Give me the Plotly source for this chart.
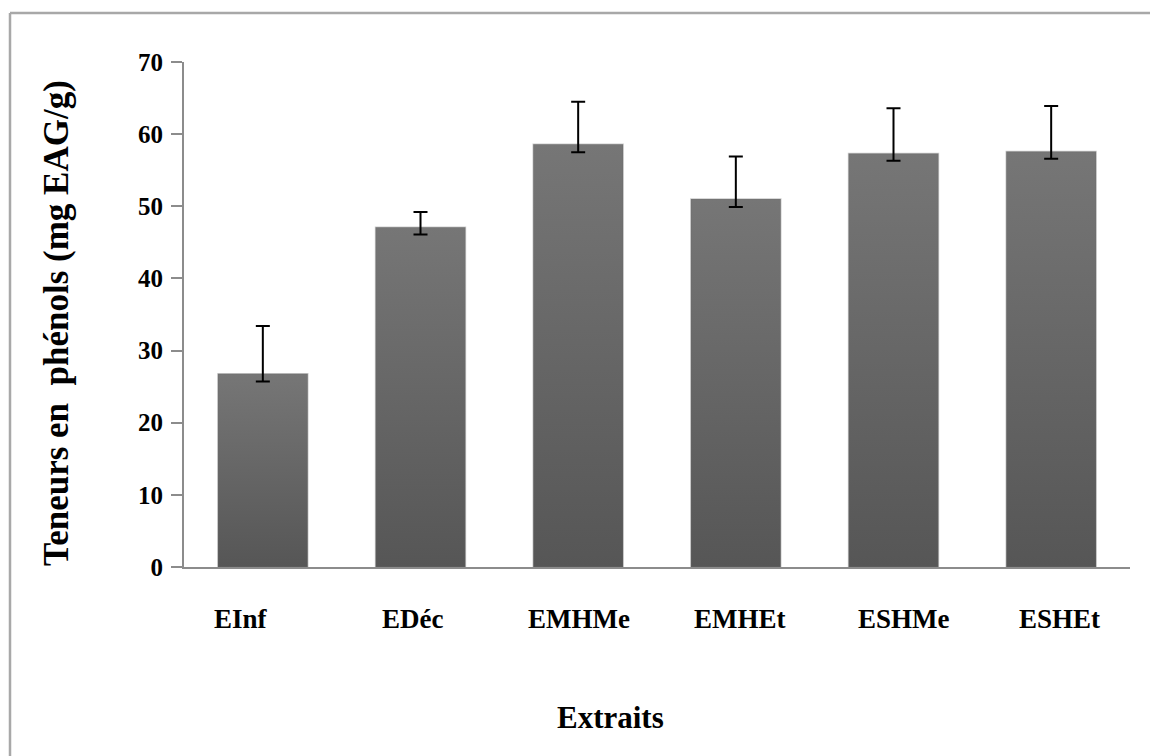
import plotly.graph_objects as go

# Total phenol content per extract (mg EAG/g) with error bar extents
categories = ["EInf", "EDéc", "EMHMe", "EMHEt", "ESHMe", "ESHEt"]
values = [26.8, 47.1, 58.6, 51.0, 57.3, 57.6]
err_up = [6.6, 2.1, 5.9, 5.9, 6.3, 6.3]
err_down = [1.1, 1.0, 1.1, 1.1, 1.0, 1.0]

y_ticks = [0, 10, 20, 30, 40, 50, 60, 70]

# Layout geometry (pixels)
W, H = 1150, 756
ML, MR, MT, MB = 184, 20, 62, 189
PW, PH = W - ML - MR, H - MT - MB

# Horizontal nudge of each category label (pixels)
label_shift = [-22, -8, 1, 4, 10, 8]

SERIF = "Liberation Serif"
AXIS_GREY = "#8c8c8c"
BAR_WIDTH = 0.57


def px_x(p):
    return (p - ML) / PW


def px_y(p):
    return (H - MB - p) / PH


fig = go.Figure()

# Bars drawn as filled rectangles so they can carry a vertical gradient
for i, v in enumerate(values):
    x0, x1 = i - BAR_WIDTH / 2, i + BAR_WIDTH / 2
    fig.add_trace(go.Scatter(
        x=[x0, x1, x1, x0, x0],
        y=[0, 0, v, v, 0],
        mode="lines",
        fill="toself",
        fillgradient=dict(type="vertical",
                          colorscale=[[0, "#565656"], [1, "#767676"]]),
        line=dict(color="rgba(110,110,110,0.35)", width=1.5),
        hoverinfo="skip",
        showlegend=False,
    ))

# Error bars
fig.add_trace(go.Scatter(
    x=list(range(len(categories))),
    y=values,
    mode="markers",
    marker=dict(size=1, opacity=0),
    error_y=dict(type="data", symmetric=False, array=err_up,
                 arrayminus=err_down, color="#000000",
                 thickness=2, width=7),
    showlegend=False,
    hovertext=categories,
))

annotations = []
for i, (cat, dx) in enumerate(zip(categories, label_shift)):
    annotations.append(dict(
        x=i, y=px_y(619), xref="x", yref="paper",
        text=cat, showarrow=False, xshift=dx,
        xanchor="center", yanchor="middle",
        font=dict(family=SERIF, size=27, color="#000000", weight="bold"),
    ))

annotations.append(dict(
    x=px_x(610), y=px_y(717), xref="paper", yref="paper",
    text="Extraits", showarrow=False,
    xanchor="center", yanchor="middle",
    font=dict(family=SERIF, size=31, color="#000000", weight="bold"),
))

annotations.append(dict(
    x=px_x(56), y=px_y(323), xref="paper", yref="paper",
    text="Teneurs en  phénols (mg EAG/g)", showarrow=False,
    textangle=-90, xanchor="center", yanchor="middle",
    font=dict(family=SERIF, size=35, color="#000000", weight="bold"),
))

# Outer frame (left and top edges)
border = dict(color="#a8a8a8", width=2.5)
shapes = [
    dict(type="line", xref="paper", yref="paper",
         x0=px_x(10), x1=px_x(10), y0=px_y(13), y1=px_y(H + 5), line=border),
    dict(type="line", xref="paper", yref="paper",
         x0=px_x(10), x1=px_x(W + 5), y0=px_y(13), y1=px_y(13), line=border),
]

fig.update_layout(
    width=W, height=H,
    margin=dict(l=ML, r=MR, t=MT, b=MB, pad=0),
    paper_bgcolor="#ffffff",
    plot_bgcolor="#ffffff",
    showlegend=False,
    annotations=annotations,
    shapes=shapes,
    xaxis=dict(
        range=[-0.5, len(categories) - 0.5],
        tickvals=list(range(len(categories))),
        ticktext=categories,
        showticklabels=False,
        ticks="",
        showgrid=False, zeroline=False,
        showline=True, linecolor=AXIS_GREY, linewidth=2,
        fixedrange=True,
    ),
    yaxis=dict(
        range=[0, 70],
        tickvals=y_ticks,
        ticks="outside", ticklen=11, tickwidth=2, tickcolor=AXIS_GREY,
        showgrid=False, zeroline=False,
        showline=True, linecolor=AXIS_GREY, linewidth=2,
        tickfont=dict(family=SERIF, size=25, color="#000000", weight="bold"),
        ticklabelstandoff=3,
        fixedrange=True,
    ),
)

fig.write_html("out.html", config={"displayModeBar": False})
